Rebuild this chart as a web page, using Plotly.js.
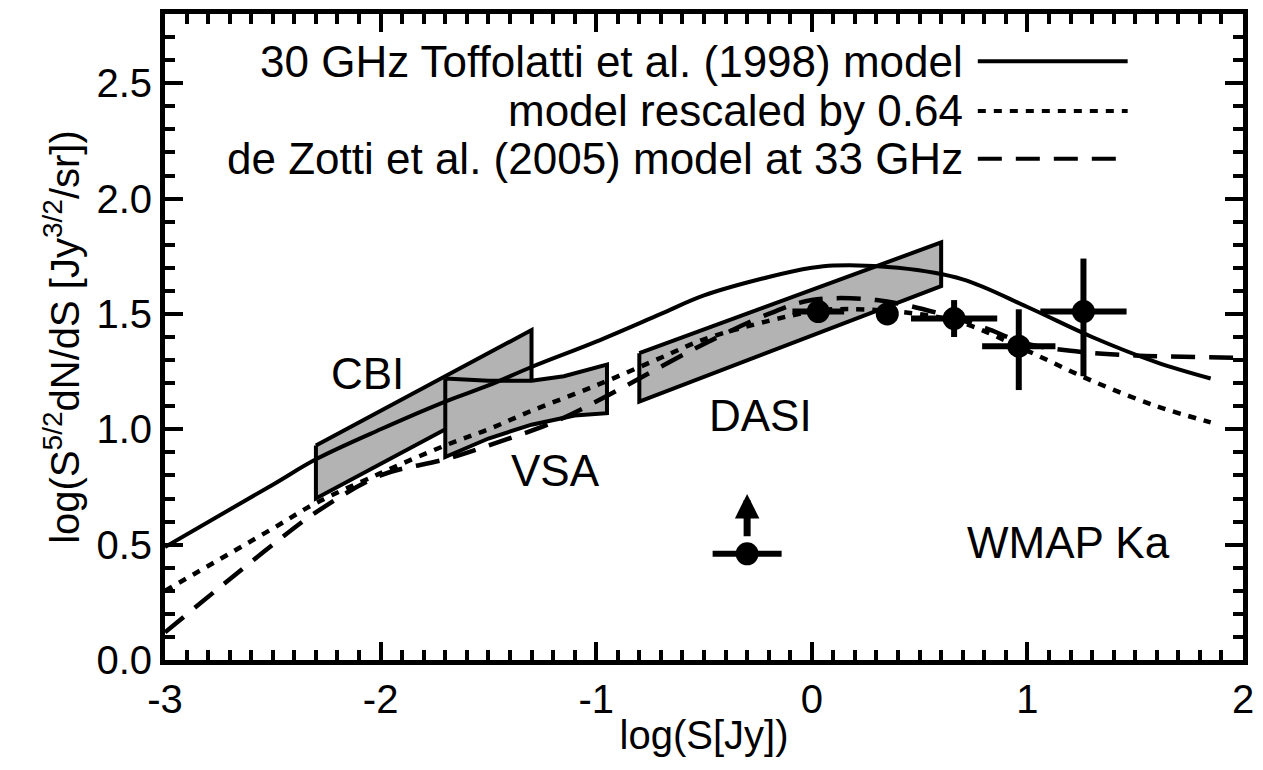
<!DOCTYPE html>
<html>
<head>
<meta charset="utf-8">
<script src="https://cdn.plot.ly/plotly-3.0.1.min.js"></script>
<style>body{margin:0;background:#fff}#chart{width:1263px;height:770px}</style>
</head>
<body>
<div id="chart"></div>
<script>
// Toffolatti et al. (1998) model at 30 GHz
const toffX = [-3, -2.5, -2.3, -2, -1.7, -1.5, -1.3, -1, -0.7, -0.5, -0.2, 0, 0.1, 0.4, 0.7, 1.0, 1.3, 1.6, 1.85];
const toffY = [0.49, 0.76, 0.87, 1.00, 1.12, 1.19, 1.27, 1.38, 1.50, 1.58, 1.66, 1.70, 1.71, 1.70, 1.65, 1.53, 1.40, 1.29, 1.22];
// same model rescaled by 0.64
const rescY = [0.30, 0.57, 0.68, 0.81, 0.93, 1.00, 1.08, 1.19, 1.31, 1.39, 1.47, 1.51, 1.52, 1.51, 1.46, 1.34, 1.21, 1.10, 1.03];
// de Zotti et al. (2005) model at 33 GHz
const zottiX = [-3, -2.7, -2.5, -2.3, -2, -1.7, -1.5, -1.2, -1, -0.8, -0.5, -0.2, 0, 0.3, 0.6, 0.8, 1.0, 1.2, 1.5, 2.0];
const zottiY = [0.12, 0.35, 0.50, 0.64, 0.80, 0.87, 0.93, 1.03, 1.12, 1.22, 1.37, 1.50, 1.56, 1.56, 1.50, 1.44, 1.37, 1.34, 1.32, 1.31];

// experiment constraint boxes
const cbiX = [-2.3, -1.3, -1.3, -2.3, -2.3];
const cbiY = [0.93, 1.43, 1.20, 0.70, 0.93];
const vsaX = [-1.7, -1.5, -1.3, -1.15, -0.95, -0.95, -1.1, -1.3, -1.5, -1.7, -1.7];
const vsaY = [1.22, 1.21, 1.21, 1.23, 1.28, 1.07, 1.06, 1.02, 0.96, 0.88, 1.22];
const dasiX = [-0.8, 0.6, 0.6, -0.8, -0.8];
const dasiY = [1.33, 1.81, 1.62, 1.12, 1.33];

// WMAP Ka points
const wmapX = [0.03, 0.35, 0.66, 0.96, 1.26];
const wmapY = [1.51, 1.50, 1.48, 1.36, 1.51];
const wmapXerr = [0.12, 0.05, 0.2, 0.17, 0.2];
const wmapYplus = [0.01, 0.01, 0.08, 0.16, 0.23];
const wmapYminus = [0.01, 0.01, 0.08, 0.19, 0.28];
const limX = [-0.3];
const limY = [0.46];

const xTicks = [-3, -2, -1, 0, 1, 2];
const xTickText = ['-3', '-2', '-1', '0', '1', '2'];

const box = (x, y) => ({x, y, mode: 'lines', fill: 'toself', fillcolor: '#b3b3b3',
  line: {color: '#000', width: 4}, showlegend: false, hoverinfo: 'skip'});

const data = [
  box(cbiX, cbiY), box(vsaX, vsaY), box(dasiX, dasiY),
  {x: toffX, y: toffY, mode: 'lines', line: {color: '#000', width: 4, shape: 'spline'}, showlegend: false},
  {x: toffX, y: rescY, mode: 'lines', line: {color: '#000', width: 4.5, dash: '8px,8px', shape: 'spline'}, showlegend: false},
  {x: zottiX, y: zottiY, mode: 'lines', line: {color: '#000', width: 4.5, dash: '24px,14px', shape: 'spline'}, showlegend: false},
  {x: wmapX, y: wmapY, mode: 'markers', marker: {color: '#000', size: 23},
   error_x: {type: 'data', array: wmapXerr, color: '#000', thickness: 6, width: 0},
   error_y: {type: 'data', symmetric: false, array: wmapYplus, arrayminus: wmapYminus, color: '#000', thickness: 6, width: 0},
   showlegend: false},
  {x: limX, y: limY, mode: 'markers', marker: {color: '#000', size: 23},
   error_x: {type: 'data', array: [0.16], color: '#000', thickness: 6, width: 0}, showlegend: false}
];

const font = {family: 'Liberation Sans, Arial, sans-serif', size: 40, color: '#000'};
const bigFont = Object.assign({}, font, {size: 44});
const legendRows = [
  {text: '30 GHz Toffolatti et al. (1998) model', dash: 'solid', y: 0.927},
  {text: 'model rescaled by 0.64', dash: '8px,8px', y: 0.85},
  {text: 'de Zotti et al. (2005) model at 33 GHz', dash: '24px,14px', y: 0.776}
];
const annotations = legendRows.map(r => ({xref: 'paper', yref: 'paper', x: 0.742, y: r.y,
  xanchor: 'right', yanchor: 'middle', text: r.text, showarrow: false, font: bigFont}));
const shapes = legendRows.map(r => ({type: 'line', xref: 'paper', yref: 'paper',
  x0: 0.754, x1: 0.893, y0: r.y, y1: r.y, line: {color: '#000', width: 4, dash: r.dash}}));

[['CBI', -2.06, 1.24], ['VSA', -1.19, 0.82], ['DASI', -0.24, 1.06], ['WMAP Ka', 1.19, 0.51]].forEach(l =>
  annotations.push({x: l[1], y: l[2], text: l[0], showarrow: false, font: bigFont}));
annotations.push({x: -0.3, y: 0.72, ax: -0.3, ay: 0.53, axref: 'x', ayref: 'y', text: '',
  showarrow: true, arrowhead: 2, arrowsize: 0.7, arrowwidth: 7, arrowcolor: '#000'});

const axisCommon = {showgrid: false, zeroline: false, showline: true, linewidth: 5, linecolor: '#000',
  mirror: 'allticks', ticks: 'inside', ticklen: 18, tickwidth: 4, tickcolor: '#000',
  tickfont: font};
const minor = {dtick: 0.1, ticklen: 10, tickwidth: 4, ticks: 'inside', tickcolor: '#000'};

const layout = {
  width: 1263, height: 770,
  margin: {l: 165, r: 20, t: 14, b: 110},
  paper_bgcolor: '#fff', plot_bgcolor: '#fff',
  showlegend: false,
  xaxis: Object.assign({}, axisCommon, {range: [-3, 2], tickvals: xTicks, ticktext: xTickText,
    minor: Object.assign({tick0: 0}, minor),
    title: {text: 'log(S[Jy])', font, standoff: 2}}),
  yaxis: Object.assign({}, axisCommon, {range: [0, 2.8], dtick: 0.5, tick0: 0, tickformat: '.1f',
    minor: Object.assign({tick0: 0}, minor),
    title: {text: 'log(S<sup>5/2</sup>dN/dS [Jy<sup>3/2</sup>/sr])', font, standoff: 6}}),
  annotations, shapes
};

Plotly.newPlot('chart', data, layout, {displayModeBar: false, staticPlot: true});
</script>
</body>
</html>
